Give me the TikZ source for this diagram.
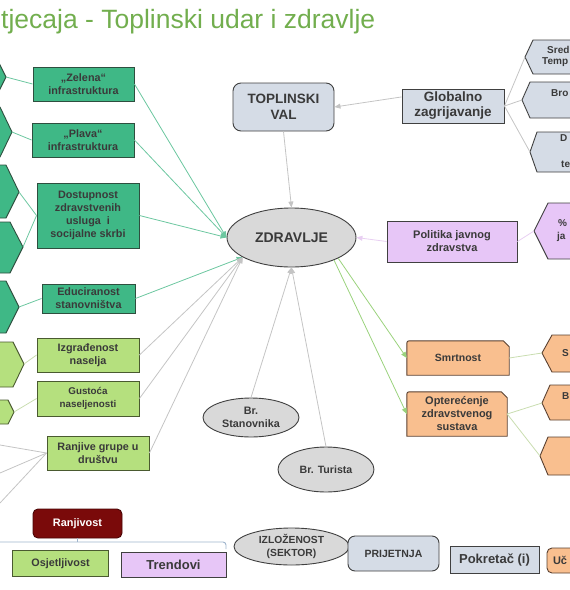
\documentclass[tikz,border=0pt]{standalone}
\usepackage{fontspec}
\setmainfont{Liberation Sans}
\usetikzlibrary{arrows.meta,calc,backgrounds,shapes.geometric}
\definecolor{ttl}{HTML}{72AE4E}
\definecolor{txt}{HTML}{3A3A3A}
\definecolor{dgf}{HTML}{3FB886}
\definecolor{dgb}{HTML}{2E4F3F}
\definecolor{lgf}{HTML}{B5E07E}
\definecolor{lgb}{HTML}{4A5A30}
\definecolor{gbf}{HTML}{D5DCE6}
\definecolor{gbb}{HTML}{404040}
\definecolor{pkf}{HTML}{E7C6F7}
\definecolor{pkb}{HTML}{404040}
\definecolor{orf}{HTML}{F9BF8F}
\definecolor{orb}{HTML}{5A4030}
\definecolor{elf}{HTML}{D9D9D9}
\definecolor{rdf}{HTML}{7A0A0A}
\definecolor{tealc}{HTML}{6CC7A0}
\definecolor{grayc}{HTML}{C4C4C4}
\definecolor{lgc}{HTML}{C9DDB0}
\definecolor{pinkc}{HTML}{E8CFF2}
\definecolor{grnc}{HTML}{9AD27C}
\definecolor{brkc}{HTML}{9FB4CC}
\tikzset{
  base/.style={font=\bfseries\fontsize{10.8}{13}\selectfont, text=txt, align=center, inner sep=0pt},
  box/.style 2 args={minimum width=#1pt, minimum height=#2pt},
  dgbox/.style={base, rectangle, draw=dgb, fill=dgf, line width=0.9pt},
  lgbox/.style={base, rectangle, draw=lgb, fill=lgf, line width=0.9pt},
  gbbox/.style={base, rectangle, draw=gbb, fill=gbf, line width=0.9pt},
  pkbox/.style={base, rectangle, draw=pkb, fill=pkf, line width=0.9pt},
  elbox/.style={base, ellipse, draw=gbb, fill=elf, line width=0.9pt},
  ortxt/.style={base},
  orshape/.style={draw=orb, fill=orf, line width=0.9pt},
  dghex/.style={draw=dgb, fill=dgf, line width=0.9pt},
  lghex/.style={draw=lgb, fill=lgf, line width=0.9pt},
  gbhex/.style={draw=gbb, fill=gbf, line width=0.9pt},
  pkhex/.style={draw=pkb, fill=pkf, line width=0.9pt},
  orhex/.style={draw=orb, fill=orf, line width=0.9pt},
  tealln/.style={draw=tealc, line width=0.8pt},
  lgln/.style={draw=lgc, line width=0.8pt},
  grayln/.style={draw=grayc, line width=0.8pt},
  pinkln/.style={draw=pinkc, line width=0.8pt},
  orln/.style={draw=lgc, line width=0.8pt},
  tealar/.style={tealln, -{Triangle[length=6pt,width=5pt]}},
  grayar/.style={grayln, -{Triangle[length=6pt,width=5pt]}},
  pinkar/.style={pinkln, -{Triangle[length=6pt,width=5pt]}},
  grnar/.style={draw=grnc, line width=0.8pt, -{Triangle[length=6pt,width=5pt]}},
  frag/.style={base, anchor=west, font=\bfseries\fontsize{10}{12}\selectfont},
  brk/.style={draw=brkc, line width=0.9pt},
}
\begin{document}
\begin{tikzpicture}[x=1pt,y=-1pt]
\useasboundingbox (0,0) rectangle (570,590);
\clip (0,0) rectangle (570,590);

% title
\node[anchor=west, inner sep=0pt, font=\fontsize{26.5}{30}\selectfont, text=ttl] (title) at (1,22) {tjecaja - Toplinski udar i zdravlje};

% left hexagon points
\coordinate (h1) at (6,77);
\coordinate (h2) at (12,132);
\coordinate (h3) at (19,192);
\coordinate (h4) at (23,247);
\coordinate (h5) at (19,307);
\coordinate (h6) at (24,364);
\coordinate (h7) at (14,412);
\path[dghex] (-30,63) -- (-1,63) -- (h1) -- (-1,91) -- (-30,91) -- cycle;
\path[dghex] (-30,107) -- (0,107) -- (h2) -- (0,157) -- (-30,157) -- cycle;
\path[dghex] (-30,165) -- (6,165) -- (h3) -- (6,218) -- (-30,218) -- cycle;
\path[dghex] (-30,222) -- (10,222) -- (h4) -- (10,273) -- (-30,273) -- cycle;
\path[dghex] (-30,281) -- (6,281) -- (h5) -- (6,333) -- (-30,333) -- cycle;
\path[lghex] (-30,342) -- (13,342) -- (h6) -- (13,387) -- (-30,387) -- cycle;
\path[lghex] (-30,400) -- (8,400) -- (h7) -- (8,424) -- (-30,424) -- cycle;

% right hexagon points
\coordinate (r1) at (525,57);
\coordinate (r2) at (522,100);
\coordinate (r3) at (530,152);
\coordinate (r4) at (534,231);
\coordinate (r5) at (542,353);
\coordinate (r6) at (542,403);
\coordinate (r7) at (540,456);
\path[gbhex] (r1) -- (533,40) -- (600,40) -- (600,74) -- (533,74) -- cycle;
\path[gbhex] (r2) -- (530,82) -- (600,82) -- (600,118) -- (530,118) -- cycle;
\path[gbhex] (r3) -- (537,132) -- (600,132) -- (600,172) -- (537,172) -- cycle;
\path[pkhex] (r4) -- (548,203) -- (600,203) -- (600,259) -- (548,259) -- cycle;
\path[orhex] (r5) -- (552,335) -- (600,335) -- (600,372) -- (552,372) -- cycle;
\path[orhex] (r6) -- (550,385) -- (600,385) -- (600,420) -- (550,420) -- cycle;
\path[orhex] (r7) -- (548,437) -- (600,437) -- (600,475) -- (548,475) -- cycle;
\node[frag] (t1) at (547,50) {Sred};
\node[frag] (t2) at (542,62) {Temp};
\node[frag] (t3) at (551,93) {Bro};
\node[frag] (t4) at (560,138) {D};
\node[frag] (t5) at (561,164) {te};
\node[frag] (t6) at (558,223) {\%};
\node[frag] (t7) at (557,237) {ja};
\node[frag] (t8) at (562,353) {S};
\node[frag] (t9) at (562,396) {B};

% left boxes
\node[dgbox, box={101}{34}] (zel) at (83.5,84) {„Zelena“\\infrastruktura};
\node[dgbox, box={102}{34}] (pla) at (83,140) {„Plava“\\infrastruktura};
\node[dgbox, box={102}{65}] (dos) at (88,215.5) {Dostupnost\\zdravstvenih\\usluga\ \ i\\socijalne skrbi};
\node[dgbox, box={93}{29}] (edu) at (88.5,298.5) {Educiranost\\stanovništva};
\node[lgbox, box={102}{34}] (izg) at (88,355) {Izgrađenost\\naselja};
\node[lgbox, box={102}{35}, font=\bfseries\fontsize{9.8}{12.5}\selectfont] (gus) at (88,398.5) {Gustoća\\naseljenosti};
\node[lgbox, box={102}{34}] (ran) at (98,453) {Ranjive grupe u\\društvu};

% center
\node[gbbox, box={101}{48}, rounded corners=8pt, font=\bfseries\fontsize{13.5}{16}\selectfont] (top) at (283.5,107) {TOPLINSKI\\VAL};
\node[gbbox, box={102}{34}, font=\bfseries\fontsize{13.5}{15}\selectfont] (glo) at (453,106) {Globalno\\zagrijavanje};
\node[elbox, minimum width=129pt, minimum height=59pt, font=\bfseries\fontsize{14}{16}\selectfont] (zdr) at (291.5,237.5) {ZDRAVLJE};
\node[pkbox, box={130}{41}, font=\bfseries\fontsize{11}{13}\selectfont] (pol) at (452,241.5) {Politika javnog\\zdravstva};
\node[ortxt, box={102}{34}, font=\bfseries\fontsize{10.5}{13}\selectfont] (smr) at (458,358) {Smrtnost};
\node[ortxt, box={100}{44}, font=\bfseries\fontsize{11}{13}\selectfont] (opt) at (457,414) {Opterećenje\\zdravstvenog\\sustava};
\node[elbox, minimum width=96pt, minimum height=39pt, font=\bfseries\fontsize{10.8}{13}\selectfont] (bst) at (251,417.5) {Br.\\Stanovnika};
\node[elbox, minimum width=96pt, minimum height=45pt, font=\bfseries\fontsize{10.6}{13}\selectfont] (btu) at (326,469.5) {Br. Turista};

\begin{scope}[on background layer]
\path[orshape] (smr.south west) -- ($(smr.north west)+(0,5)$) .. controls (smr.north west) .. ($(smr.north west)+(5,0)$) -- ($(smr.north east)+(-6,0)$) -- ($(smr.north east)+(0,6)$) -- (smr.south east) -- cycle;
\path[orshape] (opt.south west) -- ($(opt.north west)+(0,5)$) .. controls (opt.north west) .. ($(opt.north west)+(5,0)$) -- ($(opt.north east)+(-6,0)$) -- ($(opt.north east)+(0,6)$) -- (opt.south east) -- cycle;
\end{scope}

% legend
\node[base, box={89}{29}, rectangle, rounded corners=5pt, draw=rdf!60!black, fill=rdf, text=white, line width=0.9pt, font=\bfseries\fontsize{10.9}{13}\selectfont] (rnj) at (77.5,523.5) {Ranjivost};
\node[lgbox, box={96}{26}] (osj) at (60.5,563.5) {Osjetljivost};
\node[pkbox, box={105}{25}, font=\bfseries\fontsize{13}{15}\selectfont] (tre) at (173.5,565) {Trendovi};
\node[elbox, minimum width=115pt, minimum height=37pt, font=\bfseries\fontsize{10.3}{12.5}\selectfont] (izl) at (291.5,546.5) {IZLOŽENOST\\(SEKTOR)};
\node[gbbox, box={91}{35}, rounded corners=7pt, font=\bfseries\fontsize{10.5}{13}\selectfont] (pri) at (393.5,553.5) {PRIJETNJA};
\node[gbbox, box={89}{27}, font=\bfseries\fontsize{13}{15}\selectfont] (pok) at (494.5,559.5) {Pokretač (i)};
\node[base, rectangle, rounded corners=5pt, draw=orb, fill=orf, line width=0.9pt, minimum height=25pt, text width=50pt, align=left, inner xsep=6pt, font=\bfseries\fontsize{11}{13}\selectfont] (uc) at (578,560.5) {Uč};

\coordinate (bl) at (-5,542);
\coordinate (bm) at (77.5,542);
\coordinate (br) at (226,542);
\coordinate (bd) at (226,549);
\draw[brk, rounded corners=3pt] (bl) -- (br) -- (bd);
\draw[brk] (rnj.south) -- (bm);

% left connectors
\draw[tealln] (h1) -- (zel.west);
\draw[tealln] (h2) -- (pla.west);
\draw[tealln] (h3) -- (dos.west);
\draw[tealln] (h4) -- (dos.west);
\draw[tealln] (h5) -- (edu.west);
\draw[lgln] (h6) -- (izg.west);
\draw[lgln] (h7) -- (gus.west);
\coordinate (o1) at (0,445);
\coordinate (o2) at (0,473);
\coordinate (o3) at (0,503);
\draw[grayln] (ran.west) -- (o1);
\draw[grayln] (ran.west) -- (o2);
\draw[grayln] (ran.west) -- (o3);

% arrows into ZDRAVLJE
\draw[tealar] (zel.east) -- (zdr.west);
\draw[tealar] (pla.east) -- (zdr.west);
\draw[tealar] (dos.east) -- (zdr.west);
\draw[tealar] (edu.east) -- (zdr.202);
\draw[grayar] (izg.east) -- (zdr.202);
\draw[grayar] (gus.east) -- (zdr.202);
\draw[grayar] (ran.east) -- (zdr.202);
\draw[grayar] (bst.north) -- (zdr.south);
\draw[grayar] (btu.north) -- (zdr.south);
\draw[grayar] (top.south) -- (zdr.north);
\draw[grayar] (glo.170) -- (top.east);
\draw[pinkar] (pol.west) -- (zdr.east);
\draw[grnar] (zdr.336) -- (smr.west);
\draw[grnar] (zdr.332) -- (opt.west);

% right connectors
\draw[grayln] (glo.east) -- (r1);
\draw[grayln] (glo.east) -- (r2);
\draw[grayln] (glo.east) -- (r3);
\draw[pinkln] (pol.east) -- (r4);
\draw[orln] (smr.east) -- (r5);
\draw[orln] (opt.east) -- (r6);
\draw[orln] (opt.east) -- (r7);
\end{tikzpicture}
\end{document}
